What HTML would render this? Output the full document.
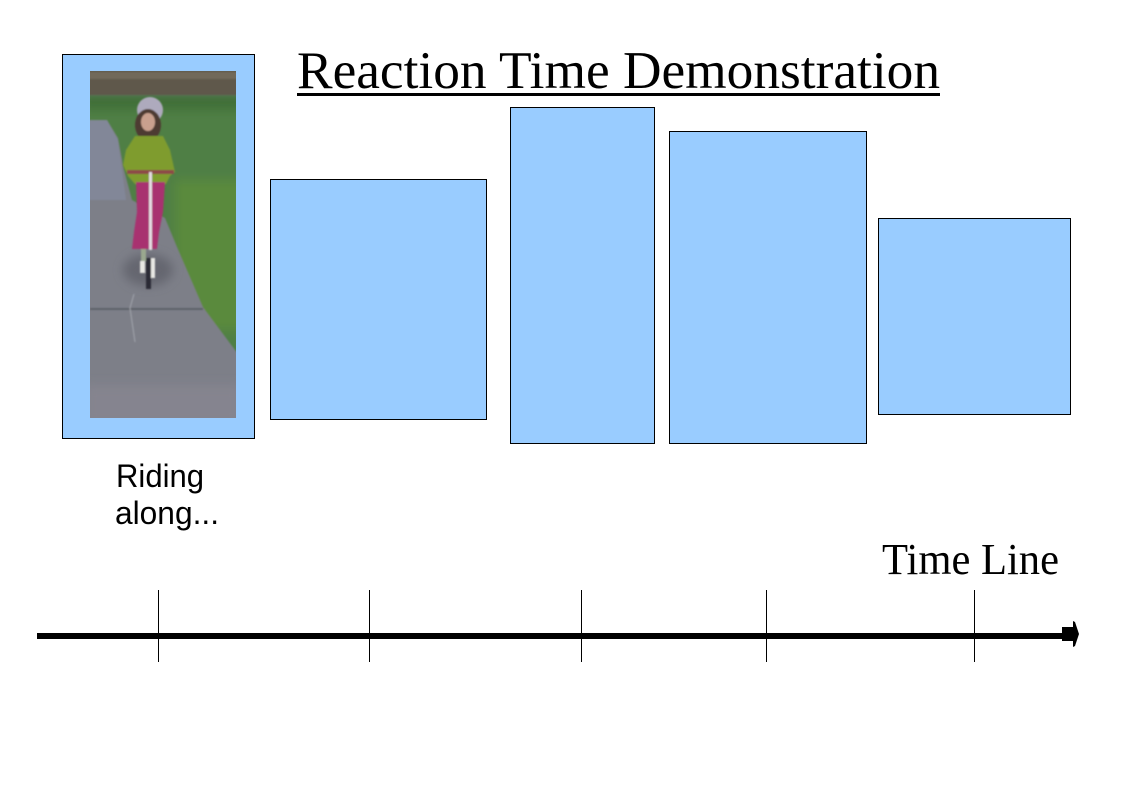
<!DOCTYPE html>
<html lang="en">
<head>
<meta charset="utf-8">
<title>Reaction Time Demonstration</title>
<style>
html,body{margin:0;padding:0;background:#fff;}
svg{display:block;}
text{fill:#000;}
</style>
</head>
<body>
<svg width="1123" height="794" viewBox="0 0 1123 794" xmlns="http://www.w3.org/2000/svg">
<defs>
<filter id="soft" x="-5%" y="-5%" width="110%" height="110%"><feGaussianBlur stdDeviation="0.9"/></filter>
<filter id="softer" x="-20%" y="-20%" width="140%" height="140%"><feGaussianBlur stdDeviation="5"/></filter>
<clipPath id="photo-clip"><rect x="90" y="71" width="146" height="347"/></clipPath>
</defs>
<rect width="1123" height="794" fill="#fff"/>

<text x="297" y="88" font-family="'Liberation Serif',serif" font-size="52.5" textLength="643" lengthAdjust="spacingAndGlyphs">Reaction Time Demonstration</text>
<rect x="297" y="93" width="643" height="3" fill="#000"/>

<rect x="62.5" y="54.5" width="192" height="384" fill="#99ccff" stroke="#000"/>
<rect x="270.5" y="179.5" width="216" height="240" fill="#99ccff" stroke="#000"/>
<rect x="510.5" y="107.5" width="144" height="336" fill="#99ccff" stroke="#000"/>
<rect x="669.5" y="131.5" width="197" height="312" fill="#99ccff" stroke="#000"/>
<rect x="878.5" y="218.5" width="192" height="196" fill="#99ccff" stroke="#000"/>

<g clip-path="url(#photo-clip)">
  <rect x="90" y="71" width="146" height="347" fill="#7f8089"/>
  <g filter="url(#softer)">
    <rect x="80" y="94" width="170" height="280" fill="#4f7f45"/>
    <rect x="175" y="180" width="70" height="150" fill="#5a8a3e"/>
    <rect x="80" y="92" width="170" height="18" fill="#3f7039"/>
  </g>
  <g filter="url(#soft)">
    <rect x="85" y="66" width="156" height="29" fill="#5f594b"/>
    <rect x="85" y="72" width="156" height="7" fill="#71695a"/>
    <polygon points="85,120 107,120 118,138 124,170 132,200 165,218 177,247 203,307 241,358 241,425 85,425" fill="#7d7f88"/>
    <polygon points="85,120 107,120 118,140 126,200 85,200" fill="#848a9f" opacity=".7"/>
    <rect x="90" y="308" width="113" height="2" fill="#5d6167"/>
    <path d="M134 294 L130 308 L135 342" stroke="#a0a3aa" stroke-width="1" fill="none"/>
  </g>
  <g filter="url(#softer)">
    <ellipse cx="148" cy="270" rx="25" ry="16" fill="#656670"/>
    <rect x="85" y="385" width="156" height="40" fill="#85848f"/>
  </g>
  <g filter="url(#soft)">
    <ellipse cx="150" cy="110" rx="13" ry="13" fill="#aeaabd"/>
    <ellipse cx="148" cy="125" rx="13" ry="16" fill="#4d3a30"/>
    <ellipse cx="148" cy="122" rx="7" ry="9" fill="#c9a08e"/>
    <polygon points="135,136 163,136 170,150 175,172 170,176 166,184 135,184 128,176 123,165 126,150" fill="#7f9c2e"/>
    <polygon points="136,182 165,182 163,212 159,232 157,249 132,249 134,232 137,212" fill="#a83070"/>
    <rect x="127" y="170" width="47" height="4" fill="#8d4a46"/>
    <rect x="149" y="172" width="3" height="78" fill="#e4dce2"/>
    <rect x="141" y="249" width="5" height="12" fill="#9aa88f"/>
    <rect x="140" y="261" width="5" height="12" fill="#e8e8e4"/>
    <rect x="150" y="258" width="5" height="20" fill="#e8e8e4"/>
    <rect x="146" y="258" width="5" height="31" fill="#2c2c34"/>
  </g>
</g>

<text x="116" y="487" font-family="'Liberation Sans',sans-serif" font-size="32" textLength="88" lengthAdjust="spacingAndGlyphs">Riding</text>
<text x="115" y="524" font-family="'Liberation Sans',sans-serif" font-size="32" textLength="104" lengthAdjust="spacingAndGlyphs">along...</text>

<text x="882" y="574" font-family="'Liberation Serif',serif" font-size="44" textLength="177" lengthAdjust="spacingAndGlyphs">Time Line</text>

<g>
  <rect x="37" y="633" width="1026" height="6" fill="#000"/>
  <polygon points="1062,627 1073,627 1073,621 1075,622 1079,634 1075,646 1073,647 1073,641 1062,641" fill="#000"/>
  <rect x="158" y="590" width="1" height="72" fill="#000"/>
  <rect x="369" y="590" width="1" height="72" fill="#000"/>
  <rect x="581" y="590" width="1" height="72" fill="#000"/>
  <rect x="766" y="590" width="1" height="72" fill="#000"/>
  <rect x="974" y="590" width="1" height="72" fill="#000"/>
</g>
</svg>
</body>
</html>
